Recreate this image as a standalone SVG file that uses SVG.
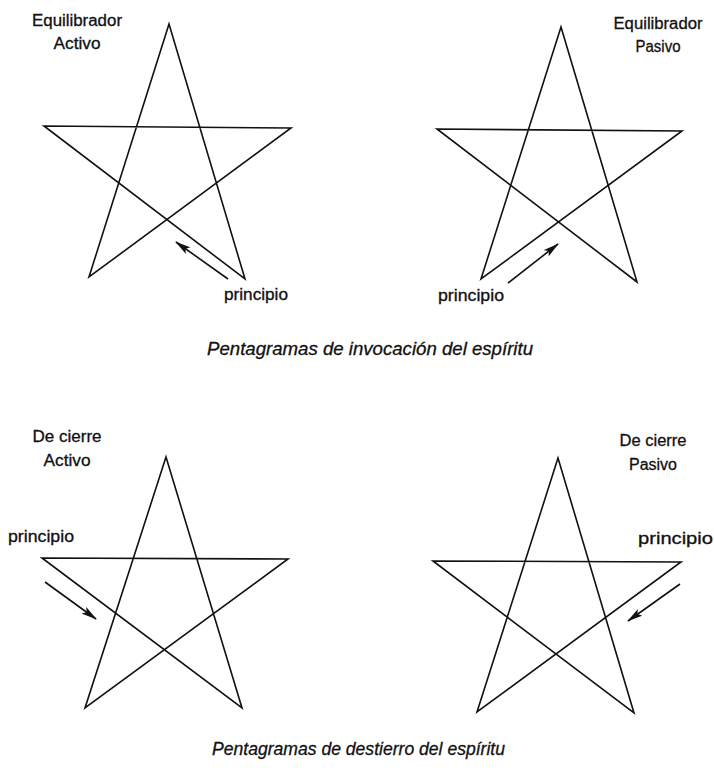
<svg xmlns="http://www.w3.org/2000/svg" width="714" height="773" viewBox="0 0 714 773">
<defs>
<marker id="ah" viewBox="0 0 16 9" refX="15" refY="4.5" markerWidth="16" markerHeight="9" markerUnits="userSpaceOnUse" orient="auto">
<path d="M0,0.5 L16,4.5 L0,8.5 L3.5,4.5 Z" fill="#111"/>
</marker>
<style>
.star{fill:none;stroke:#111;stroke-width:1.6;stroke-linejoin:miter}
.arr{fill:none;stroke:#111;stroke-width:1.6;marker-end:url(#ah)}
.lbl{font-family:"Liberation Sans",Arial,sans-serif;font-size:16px;fill:#111;stroke:#111;stroke-width:0.3}
.cap{font-family:"Liberation Sans",Arial,sans-serif;font-size:18px;font-style:italic;fill:#111;stroke:#111;stroke-width:0.3}
</style>
</defs>
<rect width="714" height="773" fill="#fff"/>
<g id="star-equilibrador-activo">
<path class="star" d="M169,24 L245,279 L44,126 L291,128 L89,277 Z"/>
<text class="lbl" x="77" y="26" text-anchor="middle" textLength="90" lengthAdjust="spacingAndGlyphs">Equilibrador</text>
<text class="lbl" x="77" y="49" text-anchor="middle" textLength="47" lengthAdjust="spacingAndGlyphs">Activo</text>
<text class="lbl" x="224" y="300" textLength="64" lengthAdjust="spacingAndGlyphs">principio</text>
</g>
<g id="star-equilibrador-pasivo">
<path class="star" d="M561,27 L637,282 L437,129 L682,131 L481,279 Z"/>
<text class="lbl" x="658" y="29" text-anchor="middle" textLength="89" lengthAdjust="spacingAndGlyphs">Equilibrador</text>
<text class="lbl" x="658" y="52" text-anchor="middle" textLength="45" lengthAdjust="spacingAndGlyphs">Pasivo</text>
<text class="lbl" x="438" y="301" textLength="66" lengthAdjust="spacingAndGlyphs">principio</text>
</g>
<g id="star-cierre-activo">
<path class="star" d="M166,457 L242,708 L42,558 L288,559 L85,708 Z"/>
<text class="lbl" x="67" y="442" text-anchor="middle" textLength="69" lengthAdjust="spacingAndGlyphs">De cierre</text>
<text class="lbl" x="67" y="466" text-anchor="middle" textLength="47" lengthAdjust="spacingAndGlyphs">Activo</text>
<text class="lbl" x="8" y="542" textLength="66" lengthAdjust="spacingAndGlyphs">principio</text>
</g>
<g id="star-cierre-pasivo">
<path class="star" d="M558,458 L634,713 L433,561 L681,562 L477,712 Z"/>
<text class="lbl" x="653" y="446" text-anchor="middle" textLength="67" lengthAdjust="spacingAndGlyphs">De cierre</text>
<text class="lbl" x="653" y="470" text-anchor="middle" textLength="48" lengthAdjust="spacingAndGlyphs">Pasivo</text>
<text class="lbl" x="638" y="544" textLength="75" lengthAdjust="spacingAndGlyphs">principio</text>
</g>
<g id="connectors">
<line class="arr" x1="228" y1="279" x2="176" y2="242"/>
<line class="arr" x1="508" y1="283" x2="558" y2="244"/>
<line class="arr" x1="45" y1="582" x2="96" y2="619"/>
<line class="arr" x1="680" y1="584" x2="628" y2="621"/>
</g>
<g id="captions">
<text class="cap" x="207" y="355" textLength="326" lengthAdjust="spacingAndGlyphs">Pentagramas de invocación del espíritu</text>
<text class="cap" x="212" y="755" textLength="293" lengthAdjust="spacingAndGlyphs">Pentagramas de destierro del espíritu</text>
</g>
</svg>
